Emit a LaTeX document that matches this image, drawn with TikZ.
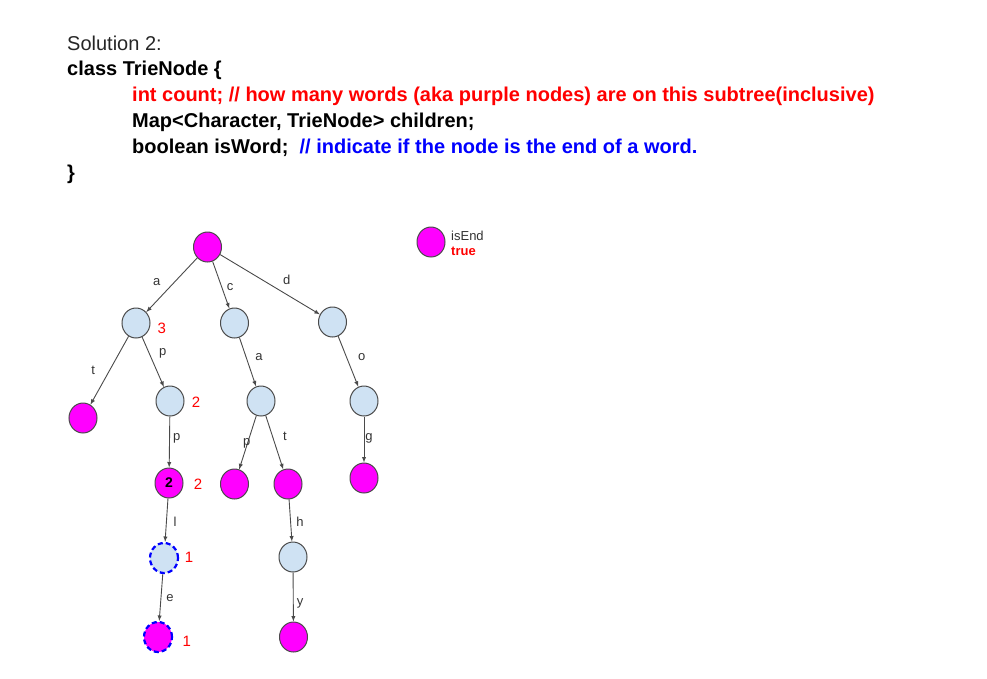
\documentclass[tikz,border=0pt]{standalone}
\usepackage{fontspec}
\setmainfont{Liberation Sans}
\usetikzlibrary{arrows,positioning,calc,shapes.geometric}

\definecolor{nodeblue}{HTML}{CFE2F3}
\definecolor{edgegray}{HTML}{4A4A4A}
\definecolor{textred}{HTML}{FF0000}
\definecolor{textblue}{HTML}{0000FF}
\definecolor{endpink}{HTML}{FF00FF}

\tikzset{
  trie/.style={draw=edgegray, ellipse, minimum width=28pt, minimum height=30pt, inner sep=0pt, line width=1pt},
  inner/.style={trie, fill=nodeblue},
  wordend/.style={trie, fill=endpink},
  newpath/.style={draw=textblue, dash pattern=on 5pt off 3pt, line width=2.2pt},
  trieedge/.style={draw=edgegray, line width=0.9pt, -latex},
  letter/.style={font=\fontsize{13}{15}\selectfont, text=black!80},
  wordcount/.style={font=\fontsize{15}{17}\selectfont, text=textred},
  codeline/.style={anchor=base west, inner sep=0pt, font=\fontsize{20}{24}\selectfont\bfseries},
}

\begin{document}
\begin{tikzpicture}[x=1pt,y=-1pt]
\useasboundingbox (0,0) rectangle (987,678);

% class text
\node[codeline, font=\fontsize{20}{24}\selectfont, text=black!85] (title) at (67,50) {Solution 2:};
\node[codeline] (classline) at (67,75.5) {class TrieNode \{};
\node[codeline, text=textred] (countline) at (132,101) {int count; // how many words (aka purple nodes) are on this subtree(inclusive)};
\node[codeline] (mapline) at (132,127) {Map<Character, TrieNode> children;};
\node[codeline] (wordline) at (132,153) {boolean isWord;~\ {\color{textblue}// indicate if the node is the end of a word.}};
\node[codeline] (closeline) at (67,179) {\}};

% trie nodes
\node[wordend] (root) at (207.5,247) {};
\node[inner] (A) at (136,323) {};
\node[inner] (C) at (234.5,323) {};
\node[inner] (D) at (332.5,322) {};
\node[wordend] (AT) at (83,418) {};
\node[inner] (AP) at (170,401) {};
\node[inner] (CA) at (261,401) {};
\node[inner] (DO) at (364,401) {};
\node[wordend, font=\fontsize{14}{16}\selectfont\bfseries] (APP) at (169,483) {2};
\node[wordend] (CAP) at (234.5,484) {};
\node[wordend] (CAT) at (288,484) {};
\node[wordend] (DOG) at (364,478) {};
\node[inner, newpath] (APPL) at (164,558) {};
\node[inner] (CATH) at (293,557) {};
\node[wordend, newpath] (APPLE) at (158,637) {};
\node[wordend] (CATHY) at (293.5,637) {};

% edges
\draw[trieedge] (root) -- (A);
\draw[trieedge] (root) -- (C);
\draw[trieedge] (root) -- (D);
\draw[trieedge] (A) -- (AT);
\draw[trieedge] (A) -- (AP);
\draw[trieedge] (C) -- (CA);
\draw[trieedge] (D) -- (DO);
\draw[trieedge] (AP) -- (APP);
\draw[trieedge] (CA) -- (CAP);
\draw[trieedge] (CA) -- (CAT);
\draw[trieedge] (DO) -- (DOG);
\draw[trieedge] (APP) -- (APPL);
\draw[trieedge] (CAT) -- (CATH);
\draw[trieedge] (APPL) -- (APPLE);
\draw[trieedge] (CATH) -- (CATHY);

% edge letters
\node[letter] (la) at (156.7,281.7) {a};
\node[letter] (lc) at (230,286.7) {c};
\node[letter] (ld) at (286.7,280) {d};
\node[letter] (lt) at (93.3,370) {t};
\node[letter] (lp) at (162.7,353) {p};
\node[letter] (lca) at (259,356.7) {a};
\node[letter] (lo) at (361.7,356.7) {o};
\node[letter] (lpp) at (176.7,438) {p};
\node[letter] (lcp) at (246.7,443) {p};
\node[letter] (lct) at (285,436.7) {t};
\node[letter] (lg) at (369,438) {g};
\node[letter] (ll) at (175,521.7) {l};
\node[letter] (lh) at (300,521.7) {h};
\node[letter] (le) at (170,598) {e};
\node[letter] (ly) at (300,603) {y};

% counts
\node[wordcount] (cntA) at (161.7,328.3) {3};
\node[wordcount] (cntAP) at (196,402.7) {2};
\node[wordcount] (cntAPP) at (198,484) {2};
\node[wordcount] (cntAPPL) at (189,557) {1};
\node[wordcount] (cntAPPLE) at (186.7,641.7) {1};

% legend
\node[wordend] (key) at (431,242) {};
\node[anchor=base west, inner sep=0pt, font=\fontsize{13}{15}\selectfont, text=black!80] (keyname) at (451,240) {isEnd};
\node[anchor=base west, inner sep=0pt, font=\fontsize{13}{15}\selectfont\bfseries, text=textred] (keyval) at (451,255) {true};
\end{tikzpicture}
\end{document}
